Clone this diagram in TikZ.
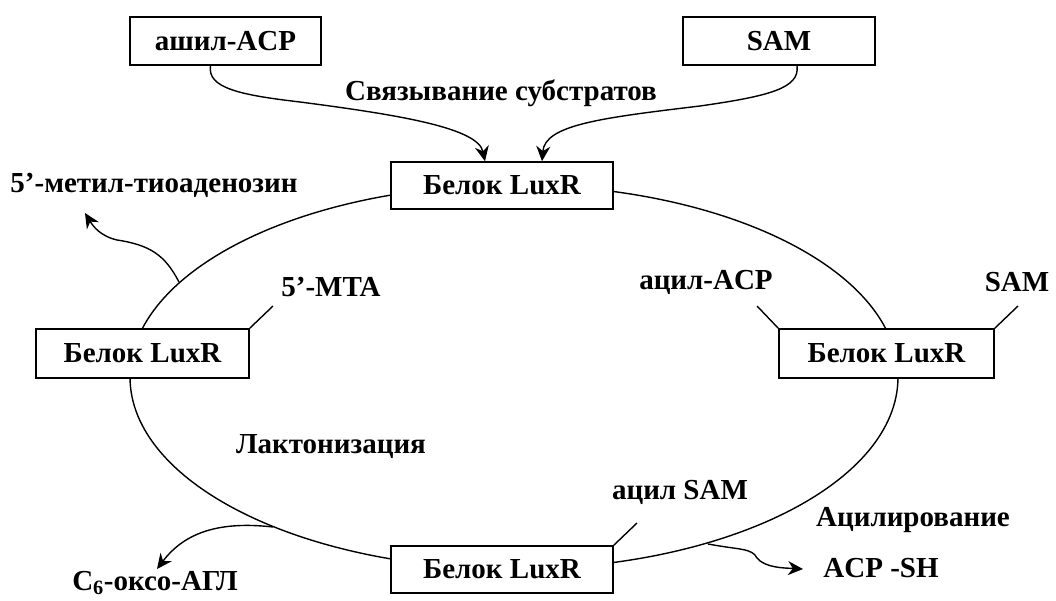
\documentclass[tikz,border=0pt]{standalone}
\usepackage{fontspec}
\setmainfont{Liberation Serif}
\usetikzlibrary{arrows.meta}
\begin{document}
\begin{tikzpicture}[x=1pt,y=-1pt,
  every node/.style={font=\fontsize{29}{33}\selectfont\bfseries, inner sep=0pt},
  box/.style={draw, fill=white, line width=1.6pt},
  ln/.style={line width=1.4pt},
  arr/.style={line width=1.4pt, -{Stealth[length=15pt,width=14pt]}}]
\useasboundingbox (0,0) rectangle (1056,601);
% cycle
\draw[ln] (514,377) ellipse [x radius=384pt, y radius=192pt];
% boxes
\node[box, minimum width=191pt, minimum height=48pt] (acp) at (225.5,41) {ашил-ACP};
\node[box, minimum width=192pt, minimum height=48pt] (sam) at (779,41) {SAM};
\node[box, minimum width=222pt, minimum height=47pt] (lt) at (502,185.5) {Белок LuxR};
\node[box, minimum width=213pt, minimum height=49pt] (ll) at (142.5,353.5) {Белок LuxR};
\node[box, minimum width=215pt, minimum height=49pt] (lr) at (886.5,353.5) {Белок LuxR};
\node[box, minimum width=222pt, minimum height=47pt] (lb) at (502,569.5) {Белок LuxR};
% labels
\node (bind) at (501,93) {Связывание субстратов};
\node (mtaname) at (154,185) {5’-метил-тиоаденозин};
\node (mta) at (331,287) {5’-MTA};
\node (racp) at (706,282) {ацил-ACP};
\node (rsam) at (1017,282) {SAM};
\node (lact) at (331,447) {Лактонизация};
\node (asam) at (680,492) {ацил SAM};
\node (acyl) at (913,520) {Ацилирование};
\node (acpsh) at (881,568) {ACP -SH};
\node (c6) at (155,583) {C\textsubscript{6}-оксо-АГЛ};
% tick lines
\coordinate (tmta) at (273,306);
\coordinate (tracp) at (757,306);
\coordinate (trsam) at (1018,306);
\coordinate (tasam) at (637,523);
\draw[ln] (ll.north east) -- (tmta);
\draw[ln] (tracp) -- (lr.north west);
\draw[ln] (lr.north east) -- (trsam);
\draw[ln] (lb.north east) -- (tasam);
% substrate arrows
\draw[arr] ([xshift=-15pt]acp.south) .. controls (207,88) and (240,95) .. (300,102)
  .. controls (400,115) and (478,128) .. ([xshift=-17pt]lt.north);
\draw[arr] ([xshift=18pt]sam.south) .. controls (800,88) and (770,96) .. (700,106)
  .. controls (600,118) and (545,125) .. ([xshift=40pt]lt.north);
% product arrows
\coordinate (e1) at (179,282);
\coordinate (t1) at (85,213);
\draw[arr] (e1) .. controls (165,255) and (150,245) .. (117,240)
  .. controls (100,236) and (93,226) .. (t1);
\coordinate (e2) at (273,527);
\coordinate (t2) at (157,569);
\draw[arr] (e2) .. controls (220,521) and (185,532) .. (t2);
\coordinate (e3) at (708,544);
\coordinate (t3) at (803,569);
\draw[arr] (e3) .. controls (740,550) and (752,548) .. (757,558)
  .. controls (765,568) and (785,568) .. (t3);
\end{tikzpicture}
\end{document}
